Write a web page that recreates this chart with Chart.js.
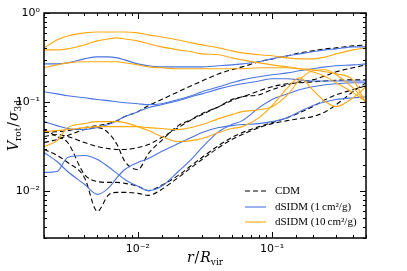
<!DOCTYPE html>
<html>
<head>
<meta charset="utf-8">
<script src="https://cdn.jsdelivr.net/npm/chart.js@4"></script>
<style>
html, body { margin: 0; padding: 0; background: #fff; }
</style>
</head>
<body>
<canvas id="myChart" width="407" height="271"></canvas>
<script>
// radius grid, r / R_vir
var rGrid = [0.002, 0.0025, 0.003, 0.004, 0.005, 0.006, 0.007, 0.008, 0.01, 0.012, 0.015, 0.02, 0.025,
             0.03, 0.04, 0.05, 0.06, 0.08, 0.1, 0.13, 0.16, 0.2, 0.25, 0.3, 0.4, 0.5];

// CDM haloes
var cdm1 = [.0456,.0468,.048,.0519,.0546,.0575,.0621,.0689,.0783,.0914,.107,.131,.153,.173,.208,.231,.249,.284,.306,.331,.357,.376,.396,.406,.428,.439];
var cdm2 = [.0412,.0434,.0412,.0353,.0318,.0302,.0295,.0295,.031,.0335,.0401,.0519,.0637,.0744,.0891,.107,.115,.134,.149,.161,.165,.169,.173,.176,.178,.178];
var cdm3 = [.0493,.0412,.0353,.0155,.0129,.0126,.0126,.0123,.0114,.0102,.0117,.0151,.0195,.024,.0327,.0401,.0456,.0532,.059,.0671,.0763,.0891,.107,.121,.138,.153];
var cdm4 = [.0295,.0253,.0211,.0143,.00598,.00902,.00975,.00975,.0095,.00902,.0105,.0143,.0185,.0228,.031,.0381,.0434,.0519,.0575,.0621,.0654,.0689,.0783,.0938,.131,.165];
var cdm5 = [.0353,.0381,.0423,.0493,.0519,.0456,.0335,.0216,.0176,.0266,.0371,.0546,.0637,.0725,.0891,.104,.115,.121,.138,.157,.169,.178,.198,.219,.243,.262];

// dSIDM 1 cm^2/g
var s1a = [.269,.269,.276,.306,.322,.322,.314,.298,.269,.256,.249,.249,.249,.249,.256,.262,.269,.284,.306,.331,.348,.367,.386,.396,.417,.417];
var s1b = [.131,.124,.118,.112,.107,.104,.101,.0987,.0962,.0938,.0962,.107,.118,.131,.149,.165,.178,.193,.203,.213,.225,.237,.249,.256,.262,.269];
var s1c = [.0605,.0546,.0506,.0493,.0519,.0561,.0621,.0689,.0783,.0868,.0938,.104,.115,.124,.141,.153,.161,.173,.183,.183,.178,.173,.173,.173,.173,.173];
var s1d = [.0273,.0216,.0167,.012,.00925,.0108,.0143,.0176,.0211,.0234,.028,.0344,.0401,.0456,.0519,.0546,.0561,.0575,.0605,.0671,.0783,.0914,.101,.107,.112,.115];
var s1e = [.0163,.0167,.024,.0252,.0228,.019,.0159,.0136,.0114,.0102,.0114,.0167,.0228,.031,.0468,.0561,.0621,.0868,.107,.124,.138,.149,.157,.161,.165,.165];

// dSIDM 10 cm^2/g
var s10a = [.406,.499,.553,.598,.613,.613,.613,.613,.598,.568,.539,.499,.462,.439,.406,.376,.357,.340,.331,.314,.306,.306,.322,.348,.386,.406];
var s10b = [.386,.386,.396,.439,.487,.512,.526,.512,.487,.451,.417,.386,.367,.348,.340,.314,.298,.276,.262,.249,.237,.219,.193,.165,.128,.101];
var s10c = [.243,.262,.276,.284,.284,.284,.284,.276,.262,.249,.243,.237,.237,.237,.237,.237,.237,.243,.243,.243,.237,.231,.219,.208,.178,.0962];
var s10d = [.0318,.0371,.0519,.0575,.0605,.0605,.0605,.059,.0532,.048,.0412,.0362,.0371,.0391,.0456,.0506,.0532,.0671,.0914,.145,.188,.138,.101,.0891,.112,.149];
var s10e = [.0468,.048,.0493,.0519,.0532,.0532,.0532,.0532,.0532,.0519,.0506,.0493,.0519,.0561,.0654,.0725,.0783,.0824,.0891,.121,.178,.225,.231,.203,.145,.101];

var legendLabels = ['CDM', 'dSIDM (1\u2009cm\u00b2/g)', 'dSIDM (10\u2009cm\u00b2/g)'];

var BLUE = '#4a74e0';
var ORANGE = '#ffa812';
var BLACK = '#000000';
var DASH = [5, 3];

function pts(arr){
	return arr.map(function(v, i){ return {x: rGrid[i], y: v}; });
}

function makeSet(arr, color, dashed, order){
	return {
		data: pts(arr),
		borderColor: color,
		borderWidth: 1.1,
		borderDash: dashed ? DASH : [],
		pointRadius: 0,
		fill: false,
		cubicInterpolationMode: 'monotone',
		order: order
	};
}

var datasets = [];
[s10a, s10b, s10c, s10d, s10e].forEach(function(a){ datasets.push(makeSet(a, ORANGE, false, 1)); });
[s1a, s1b, s1c, s1d, s1e].forEach(function(a){ datasets.push(makeSet(a, BLUE, false, 2)); });
[cdm1, cdm2, cdm3, cdm4, cdm5].forEach(function(a){ datasets.push(makeSet(a, BLACK, true, 3)); });

var SUP = {'-': '\u207b', '0': '\u2070', '1': '\u00b9', '2': '\u00b2', '3': '\u00b3'};
function isMajor(v){
	var l = Math.log10(v);
	return Math.abs(l - Math.round(l)) < 1e-6;
}
function tickLabel(v){
	if (!isMajor(v)) return '';
	var e = String(Math.round(Math.log10(v)));
	return '10' + e.split('').map(function(c){ return SUP[c]; }).join('');
}

// frame, inward ticks on all four sides
var framePlugin = {
	id: 'frame',
	afterDraw: function(chart){
		var ctx = chart.ctx, a = chart.chartArea;
		var xs = chart.scales.x, ys = chart.scales.y;
		ctx.save();
		ctx.strokeStyle = '#000';
		ctx.lineWidth = 1;
		xs.ticks.forEach(function(t){
			var px = Math.round(xs.getPixelForValue(t.value)) + 0.5;
			var len = isMajor(t.value) ? 6 : 3;
			ctx.beginPath();
			ctx.moveTo(px, a.bottom); ctx.lineTo(px, a.bottom - len);
			ctx.moveTo(px, a.top); ctx.lineTo(px, a.top + len);
			ctx.stroke();
		});
		ys.ticks.forEach(function(t){
			var py = Math.round(ys.getPixelForValue(t.value)) + 0.5;
			var len = isMajor(t.value) ? 6 : 3;
			ctx.beginPath();
			ctx.moveTo(a.left, py); ctx.lineTo(a.left + len, py);
			ctx.moveTo(a.right, py); ctx.lineTo(a.right - len, py);
			ctx.stroke();
		});
		ctx.lineWidth = 1.5;
		ctx.strokeRect(a.left, a.top, a.right - a.left, a.bottom - a.top);
		ctx.restore();
	}
};

function drawMath(ctx, parts, x, y, rotate){
	ctx.save();
	ctx.translate(x, y);
	if (rotate) ctx.rotate(-Math.PI / 2);
	ctx.fillStyle = '#000';
	ctx.textBaseline = 'alphabetic';
	ctx.textAlign = 'left';
	var w = 0;
	parts.forEach(function(p){ ctx.font = p.f; w += ctx.measureText(p.t).width + (p.gap || 0); });
	var cx = -w / 2;
	parts.forEach(function(p){
		ctx.font = p.f;
		ctx.fillText(p.t, cx, p.dy || 0);
		cx += ctx.measureText(p.t).width + (p.gap || 0);
	});
	ctx.restore();
}

var IT = 'italic 14px "DejaVu Serif"';
var RM = '14px "DejaVu Serif"';
var SUB = '9px "DejaVu Serif"';

var textPlugin = {
	id: 'texts',
	afterDraw: function(chart){
		var ctx = chart.ctx, a = chart.chartArea;
		drawMath(ctx, [
			{t: 'r', f: IT, gap: 1},
			{t: '/', f: RM, gap: 1},
			{t: 'R', f: IT},
			{t: 'vir', f: SUB, dy: 3}
		], (a.left + a.right) / 2, 262, false);
		drawMath(ctx, [
			{t: 'V', f: IT},
			{t: 'rot', f: SUB, dy: 3, gap: 1},
			{t: '/', f: RM, gap: 1},
			{t: '\u03c3', f: IT},
			{t: '3d', f: SUB, dy: 3}
		], 18, (a.top + a.bottom) / 2, true);

		// legend
		var rows = [
			{c: BLACK, d: DASH, y: 191},
			{c: BLUE, d: [], y: 207},
			{c: ORANGE, d: [], y: 222}
		];
		ctx.save();
		ctx.font = '11px "Liberation Serif"';
		ctx.textBaseline = 'middle';
		rows.forEach(function(r, i){
			ctx.strokeStyle = r.c;
			ctx.lineWidth = 1.1;
			ctx.setLineDash(r.d);
			ctx.beginPath();
			ctx.moveTo(245, r.y); ctx.lineTo(266, r.y);
			ctx.stroke();
			ctx.setLineDash([]);
			ctx.fillStyle = '#000';
			ctx.fillText(legendLabels[i], 275, r.y);
		});
		ctx.restore();
	}
};

var ctx = document.getElementById('myChart').getContext('2d');
var myChart = new Chart(ctx, {
	type: 'line',
	data: { datasets: datasets },
	options: {
		responsive: false,
		animation: false,
		devicePixelRatio: 1,
		layout: { padding: { left: 0, right: 41, top: 13, bottom: 0 } },
		plugins: { legend: { display: false }, tooltip: { enabled: false } },
		scales: {
			x: {
				type: 'logarithmic',
				min: 0.002,
				max: 0.5,
				grid: { display: false, drawTicks: false },
				border: { display: false },
				ticks: {
					autoSkip: false, maxRotation: 0, minRotation: 0, padding: 5,
					color: '#000', font: { family: 'DejaVu Sans', size: 11 },
					callback: function(v){ return tickLabel(v); }
				},
				afterFit: function(s){ s.height = 33; }
			},
			y: {
				type: 'logarithmic',
				min: 0.003,
				max: 1,
				grid: { display: false, drawTicks: false },
				border: { display: false },
				ticks: {
					autoSkip: false, padding: 4,
					color: '#000', font: { family: 'DejaVu Sans', size: 11 },
					callback: function(v){ return tickLabel(v); }
				},
				afterFit: function(s){ s.width = 44; }
			}
		}
	},
	plugins: [framePlugin, textPlugin]
});
</script>
</body>
</html>
